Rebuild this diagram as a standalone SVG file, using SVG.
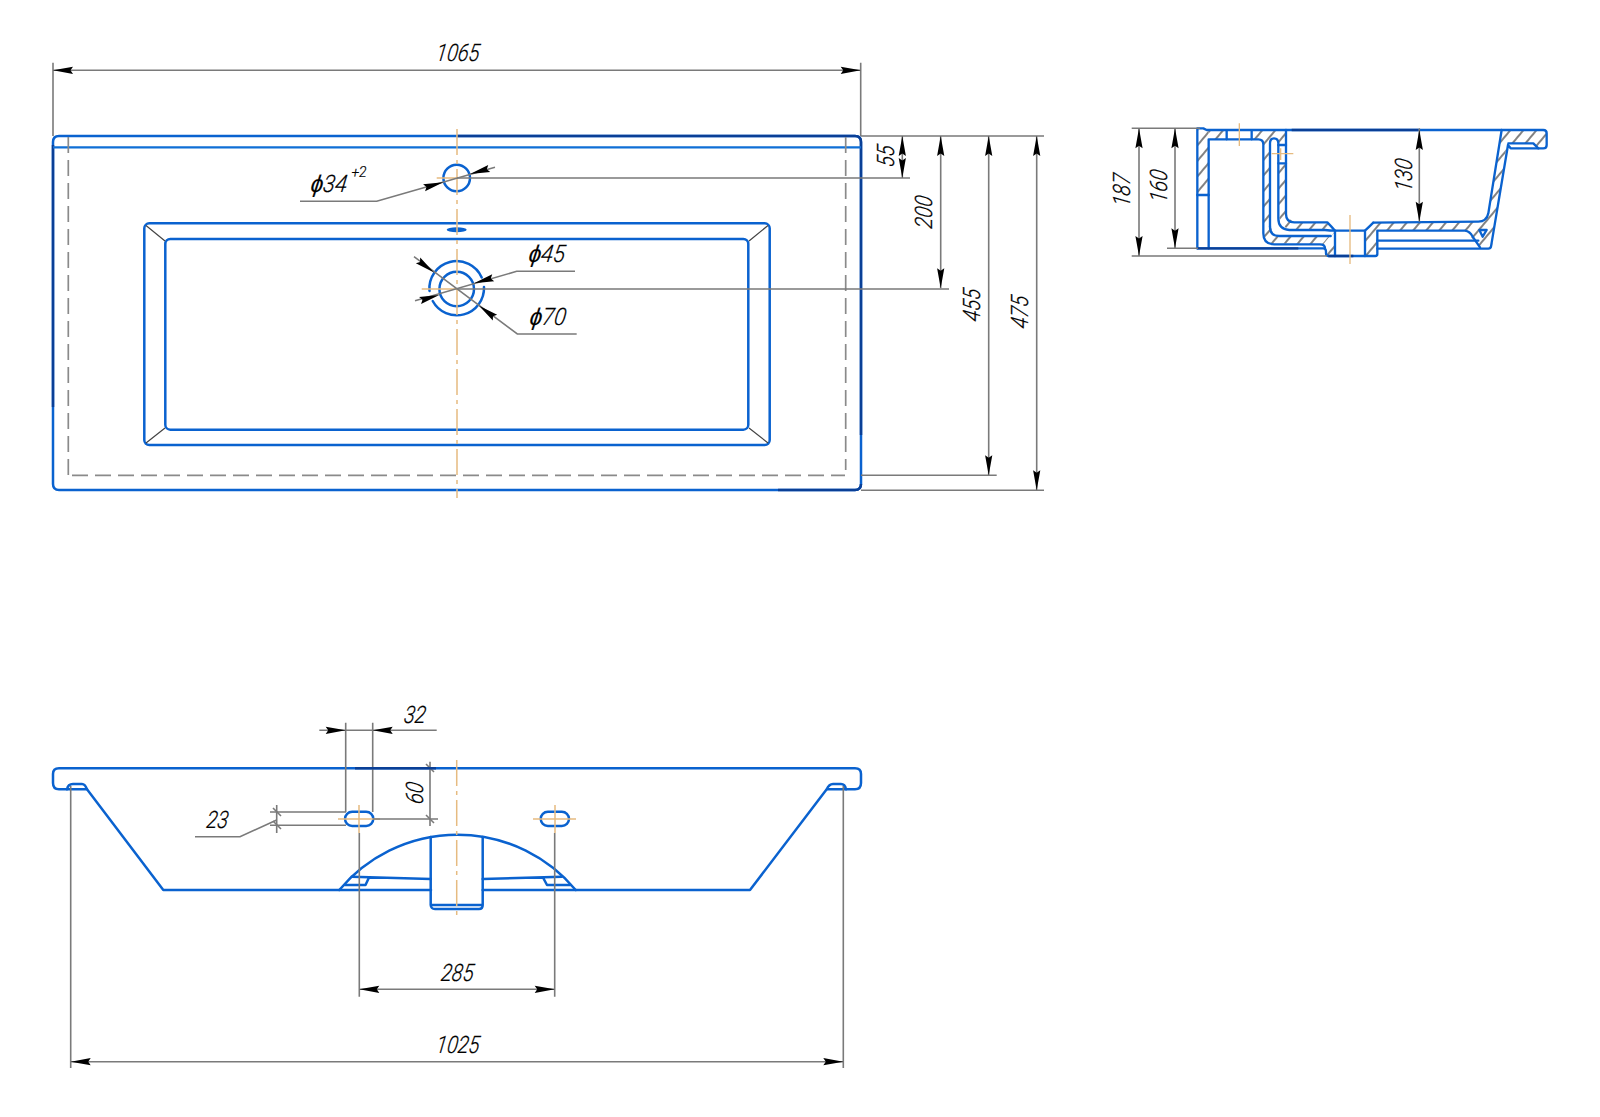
<svg xmlns="http://www.w3.org/2000/svg" xmlns:xlink="http://www.w3.org/1999/xlink" width="1600" height="1117" viewBox="0 0 1600 1117">
<style>
.b{fill:none;stroke:#0a62cf;stroke-width:2.5;stroke-linejoin:round;stroke-linecap:round}
.bt{fill:none;stroke:#0f6fd6;stroke-width:2.2}
.dk{fill:none;stroke:#0a3f96;stroke-width:2.5}
.g{fill:none;stroke:#7a7a7a;stroke-width:1.6}
.gd{fill:none;stroke:#8a8a8a;stroke-width:1.7;stroke-dasharray:16 7}
.k{fill:none;stroke:#444;stroke-width:1.2}
.c{fill:none;stroke:#e6bb80;stroke-width:1.5}
.cd{fill:none;stroke:#e6bb80;stroke-width:1.5;stroke-dasharray:26 5 4 5}
.s{fill:none;stroke:#0a62cf;stroke-width:7;stroke-linejoin:round;stroke-linecap:round}
.sd{fill:none;stroke:#0a3f96;stroke-width:7}
.sc{fill:none;stroke:#e6bb80;stroke-width:4}
.t{font-family:"Roboto","Liberation Sans",sans-serif;font-style:italic;font-weight:300;font-size:24px;fill:#000;text-anchor:middle;stroke:#000;stroke-width:.2}
.ts{font-size:14px}
.a{fill:#000}
</style>
<defs>
<path id="a" class="a" d="M0 0L-20 -3.6L-17.5 0L-20 3.6Z"/>
<pattern id="h" patternUnits="userSpaceOnUse" width="30" height="30" patternTransform="rotate(-50)">
<rect width="30" height="30" fill="#fff"/>
<line x1="0" y1="15" x2="30" y2="15" stroke="#222" stroke-width="3.4"/>
</pattern>
</defs>
<rect width="1600" height="1117" fill="#fff"/>

<g id="top-view">
<path class="b" d="M53 142Q53 136 59 136H855Q861 136 861 142V484Q861 490 855 490H59Q53 490 53 484Z"/>
<path class="dk" d="M457 136H855Q861 136 861 142V435M778 490H855Q861 490 861 484M53 145V407"/>
<path class="bt" d="M53 147.300H861"/>
<path class="gd" d="M68.300 137V475.300M845.700 137V470"/>
<path class="gd" d="M72 475.300H845"/>
<rect class="b" x="144.300" y="223.300" width="625.400" height="221.700" rx="5"/>
<rect class="b" x="165.300" y="239" width="583" height="190.700" rx="5"/>
<path class="k" d="M146 225.500L165 241M768 225.500L749 241M146 443L165 428M768 443L749 428"/>
<circle class="b" cx="456.700" cy="178" r="13.300"/>
<ellipse cx="456.700" cy="229.700" rx="10" ry="2.500" fill="#0a62cf"/>
<circle class="b" cx="456.700" cy="289" r="17.300"/>
<path class="b" d="M429.500 291A27.300 27.300 0 0 1 481.700 277.500M484 287A27.300 27.300 0 0 1 432.700 301"/>
<path class="cd" d="M457 129V498"/>
<path class="c" d="M436.700 178H457M421.700 289H457"/>
</g>

<g id="side-view" transform="translate(1090 110) scale(.33333)">
<g fill="url(#h)">
<path d="M322 60H356V255H322Z"/>
<path d="M356 60H410V88H356Z"/>
<path d="M485 60H588V105H565V95L552 85L540 95V350L560 378H720L700 403L540 400L520 375V100L510 88H485Z"/>
<path d="M565 160H588V315L610 337L715 340L735 360L590 358L568 325Z"/>
<path d="M1235 62L1195 315L1170 335L850 337L825 360V438H862V362H1125L1170 410L1205 415L1250 105L1260 100H1330L1345 115H1360L1370 105V70L1360 60Z"/>
<path d="M708 415L725 378L735 362V438H708Z"/>
</g>
<path class="s" d="M322 415V55H340L350 60H1360Q1370 60 1370 70V105Q1370 115 1360 115H1262L1254 105L1203 410Q1202 416 1195 416H862"/>
<path class="s" d="M356 415V88H505Q520 88 520 103V370Q520 403 553 403H690Q705 403 705 415"/>
<path class="s" d="M322 415H700Q708 415 708 425V430Q708 438 716 438H856Q862 438 862 432V362H1125Q1140 364 1148 380L1170 412"/>
<path class="s" d="M322 255H356M410 62V88M485 62V88"/>
<path class="s" d="M540 350V100Q540 85 552 85Q565 85 565 100V325Q565 358 598 360H705Q720 362 735 362H825Q838 350 850 338"/>
<path class="s" d="M540 350Q540 378 568 378H722M588 60V312Q588 337 613 337H712Q725 350 735 362"/>
<path class="s" d="M565 105H588M565 160H588M850 338L1165 335Q1190 335 1195 310L1235 60"/>
<path class="s" d="M735 362V438M825 362V438M862 392H1165M1255 100H1330L1345 115M1168 360H1190L1178 380Z"/>
<path class="sd" d="M605 60H985M322 415H625M715 438H790"/>
<path class="sc" d="M448 40V108M545 131H610M572 115V150M780 315V462"/>
</g>

<g id="front-view">
<path class="b" d="M87 789.300H59Q53 789.300 53 783V774Q53 768.300 59 768.300H855Q861 768.300 861 774V783Q861 789.300 855 789.300H827"/>
<path class="b" d="M67 789.300Q68 784 73 784H82Q85 784 87 789.300L163.300 890H431M482.700 890H750L826.700 789.300Q829 784 833 784H841Q845 784 846 789.300"/>
<rect class="b" x="345" y="811.700" width="28.300" height="14.300" rx="7.150"/>
<rect class="b" x="540.700" y="811.700" width="28.300" height="14.300" rx="7.150"/>
<path class="b" d="M339.300 890A154 154 0 0 1 575.700 890"/>
<path class="b" d="M430.700 837V905Q431 909 435 909H479Q482.700 909 482.700 905V837M431.500 905H482"/>
<path class="b" d="M351.700 876.700L430.700 879M369 877.500L365.500 885H345M482.700 879L561.700 876.700M543 877.500L547 885H570"/>
<path class="cd" d="M456.700 760V917"/>
<path class="c" d="M338 819H380M533 819H576M359 805V833M555 805V833"/>
</g>

<g id="dimensions">
<path class="g" d="M53 62.700V136M860.700 62.700V136M53 70.300H860.700"/>
<path class="g" d="M861 136H1044M457 178H910M457 289H949M861 475.300H996.700M861 490.300H1044"/>
<path class="g" d="M902.300 136V178M940.700 136V288.300M988.700 136V475.300M1036.700 136V490.300"/>
<path class="g" d="M300 201.300H376.700L495 167.300"/>
<path class="g" d="M575 271.300H516.700L415 300.700"/>
<path class="g" d="M576.700 334H517.300L414 256.700"/>
<path class="g" d="M1131.700 128.300H1200M1131.700 256H1327M1167 248.300H1198M1139 128.300V256M1175 128.300V248.300M1419.300 128.300V221.700"/>
<path class="g" d="M345.700 722.700V812M372.700 722.700V812M319.300 730.300H436.700"/>
<path class="g" d="M430 761.700V826M373 819H438M270 812H346M270 825.300H346M276.700 805V833"/>
<path class="g" d="M195 836.700H240L276.700 820"/>
<path class="g" d="M426 764L434 772M426 815L434 823M273 808L281 816M273 821L281 829"/>
<path class="g" d="M359.300 833V996.700M554.700 833V996.700M359.300 989.300H554.700"/>
<path class="g" d="M70.700 786V1068M843.300 786V1068M70.700 1061.700H843.300"/>
<path class="dk" d="M355 768.300H436"/>
<use xlink:href="#a" transform="translate(53 70.300) rotate(180)"/>
<use xlink:href="#a" transform="translate(860.700 70.300)"/>
<use xlink:href="#a" transform="translate(902.300 136) rotate(-90)"/>
<use xlink:href="#a" transform="translate(902.300 178) rotate(90)"/>
<use xlink:href="#a" transform="translate(940.700 136) rotate(-90)"/>
<use xlink:href="#a" transform="translate(940.700 288.300) rotate(90)"/>
<use xlink:href="#a" transform="translate(988.700 136) rotate(-90)"/>
<use xlink:href="#a" transform="translate(988.700 475.300) rotate(90)"/>
<use xlink:href="#a" transform="translate(1036.700 136) rotate(-90)"/>
<use xlink:href="#a" transform="translate(1036.700 490.300) rotate(90)"/>
<use xlink:href="#a" transform="translate(443.300 182.300) rotate(-16)"/>
<use xlink:href="#a" transform="translate(470 174) rotate(164)"/>
<use xlink:href="#a" transform="translate(474 283.300) rotate(164)"/>
<use xlink:href="#a" transform="translate(439.300 295) rotate(-16)"/>
<use xlink:href="#a" transform="translate(434 272.500) rotate(37)"/>
<use xlink:href="#a" transform="translate(479 305.700) rotate(217)"/>
<use xlink:href="#a" transform="translate(1139 128.300) rotate(-90)"/>
<use xlink:href="#a" transform="translate(1139 256) rotate(90)"/>
<use xlink:href="#a" transform="translate(1175 128.300) rotate(-90)"/>
<use xlink:href="#a" transform="translate(1175 248.300) rotate(90)"/>
<use xlink:href="#a" transform="translate(1419.300 130) rotate(-90)"/>
<use xlink:href="#a" transform="translate(1419.300 221.700) rotate(90)"/>
<use xlink:href="#a" transform="translate(345.700 730.300)"/>
<use xlink:href="#a" transform="translate(372.700 730.300) rotate(180)"/>
<use xlink:href="#a" transform="translate(359.300 989.300) rotate(180)"/>
<use xlink:href="#a" transform="translate(554.700 989.300)"/>
<use xlink:href="#a" transform="translate(70.700 1061.700) rotate(180)"/>
<use xlink:href="#a" transform="translate(843.300 1061.700)"/>
</g>

<g id="labels">
<text class="t" transform="translate(457 61) skewX(-8) scale(.84 1)">1065</text>
<text class="t" transform="translate(894 157) rotate(-90) skewX(-8) scale(.84 1)">55</text>
<text class="t" transform="translate(932 213) rotate(-90) skewX(-8) scale(.84 1)">200</text>
<text class="t" transform="translate(980 306) rotate(-90) skewX(-8) scale(.84 1)">455</text>
<text class="t" transform="translate(1028 313) rotate(-90) skewX(-8) scale(.84 1)">475</text>
<text class="t" transform="translate(328 191.700) skewX(-8) scale(.92 1)">ϕ34</text>
<text class="t ts" transform="translate(359 177)">+2</text>
<text class="t" transform="translate(546 261.700) skewX(-8) scale(.92 1)">ϕ45</text>
<text class="t" transform="translate(547 325) skewX(-8) scale(.92 1)">ϕ70</text>
<text class="t" transform="translate(1130 191) rotate(-90) skewX(-8) scale(.84 1)">187</text>
<text class="t" transform="translate(1167 187) rotate(-90) skewX(-8) scale(.84 1)">160</text>
<text class="t" transform="translate(1411.700 176) rotate(-90) skewX(-8) scale(.84 1)">130</text>
<text class="t" transform="translate(414 722.700) skewX(-8) scale(.84 1)">32</text>
<text class="t" transform="translate(423 794) rotate(-90) skewX(-8) scale(.84 1)">60</text>
<text class="t" transform="translate(216.500 828) skewX(-8) scale(.84 1)">23</text>
<text class="t" transform="translate(456.500 980.700) skewX(-8) scale(.84 1)">285</text>
<text class="t" transform="translate(457 1053) skewX(-8) scale(.84 1)">1025</text>
</g>
</svg>
